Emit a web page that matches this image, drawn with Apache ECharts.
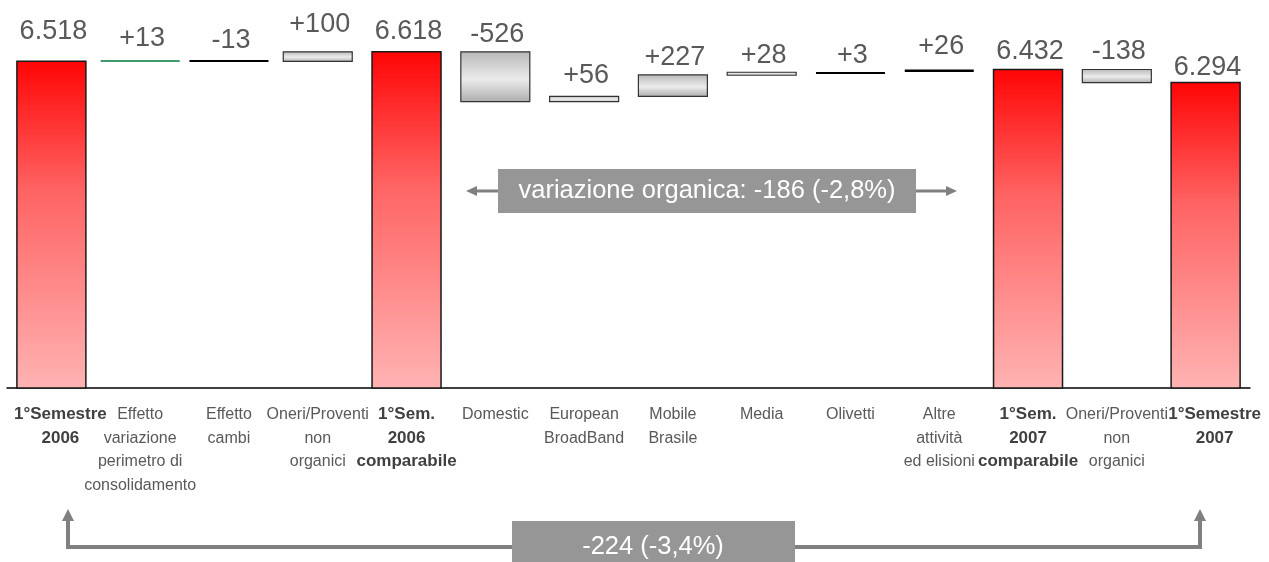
<!DOCTYPE html>
<html><head><meta charset="utf-8">
<script src="https://cdn.jsdelivr.net/npm/echarts@6/dist/echarts.min.js"></script>
<style>html,body{margin:0;padding:0;background:#fff}#c{width:1269px;height:562px}</style>
</head><body><div id="c"></div>
<script>
// ---- data ----
const categories = ['1°Semestre\n2006','Effetto\nvariazione\nperimetro di\nconsolidamento','Effetto\ncambi','Oneri/Proventi\nnon\norganici','1°Sem.\n2006\ncomparabile','Domestic','European\nBroadBand','Mobile\nBrasile','Media','Olivetti','Altre\nattività\ned elisioni','1°Sem.\n2007\ncomparabile','Oneri/Proventi\nnon\norganici','1°Semestre\n2007'];
const values = [6518, 13, -13, 100, 6618, -526, 56, 227, 28, 3, 26, 6432, -138, 6294];
const isTotal = [true,false,false,false,true,false,false,false,false,false,false,true,false,true];
const valueLabels = ['6.518','+13','-13','+100','6.618','-526','+56','+227','+28','+3','+26','6.432','-138','6.294'];
const organicText = 'variazione organica: -186 (-2,8%)';
const totalText = '-224 (-3,4%)';

// ---- styling (kept apart from data) ----
const markKind = ['total','lineGreenWide','lineWide','box','total','box','box','box','box','line','line','total','box','total'];
const labelGap = [16,8,6,14,7,4,7,4,3,3,9,4,4,2];
const FONT = '"Liberation Sans", Arial, sans-serif';
const Y_MIN = 3070, Y_MAX = 7060;

// running total -> segments
let run = 0;
const segs = values.map((v, i) => {
  if (isTotal[i]) { run = v; return [i, Y_MIN, v]; }
  const a = run, b = run + v; run = b;
  return [i, Math.min(a, b), Math.max(a, b)];
});

const redGrad = () => new echarts.graphic.LinearGradient(0, 0, 0, 1, [
  {offset: 0, color: '#ff0505'}, {offset: 0.4, color: '#ff6464'}, {offset: 1, color: '#ffb3b3'}]);
const grayGrad = () => new echarts.graphic.LinearGradient(0, 0, 0, 1, [
  {offset: 0, color: '#b8b8b8'}, {offset: 0.55, color: '#ececec'}, {offset: 1, color: '#acacac'}]);

function renderItem(params, api) {
  const i = api.value(0), lo = api.value(1), hi = api.value(2);
  const pTop = api.coord([i, hi]), pBot = api.coord([i, lo]);
  const band = api.size([1, 0])[0];
  const kind = markKind[i];
  const wide = kind.indexOf('Wide') >= 0;
  const w = band * (wide ? 0.89 : 0.777);
  const x0 = pTop[0] - w / 2;
  let h = pBot[1] - pTop[1];
  const children = [];
  if (kind === 'total') {
    children.push({type: 'rect', shape: {x: x0, y: pTop[1], width: w, height: h},
      style: {fill: redGrad(), stroke: '#1a1a1a', lineWidth: 1.5}});
  } else if (kind === 'box') {
    h = Math.max(h, 3);
    children.push({type: 'rect', shape: {x: x0, y: pTop[1], width: w, height: h},
      style: {fill: grayGrad(), stroke: '#333', lineWidth: 1.2}});
  } else {
    const lh = Math.max(h, 2);
    children.push({type: 'rect', shape: {x: x0, y: pTop[1], width: w, height: lh},
      style: {fill: kind === 'lineGreenWide' ? '#3f9a6c' : '#000'}});
  }
  children.push({type: 'text', x: pTop[0] + 2, y: pTop[1] - labelGap[i],
    style: {text: valueLabels[i], fill: '#595959', font: '27px ' + FONT, align: 'center', verticalAlign: 'bottom'}});
  return {type: 'group', children};
}

const edgeIdx = [0, categories.length - 1];
const chart = echarts.init(document.getElementById('c'));
chart.setOption({
  animation: false,
  grid: {left: 7, right: 19, top: 10, bottom: 174, containLabel: false, outerBoundsMode: 'none'},
  xAxis: {
    type: 'category', data: categories,
    axisLine: {lineStyle: {color: '#000', width: 1.5}},
    axisTick: {show: false},
    axisLabel: {
      interval: 0, margin: 15, fontSize: 16, lineHeight: 23.5, color: '#595959', fontFamily: FONT,
      formatter: (v, idx) => {
        if (!isTotal[idx]) return v;
        const st = edgeIdx.indexOf(idx) >= 0 ? 'be' : 'b';
        return v.split('\n').map(l => '{' + st + '|' + l + '}').join('\n');
      },
      rich: {
        b: {fontWeight: 'bold', color: '#404040', fontSize: 17, lineHeight: 23.5, fontFamily: FONT},
        be: {fontWeight: 'bold', color: '#404040', fontSize: 17, lineHeight: 23.5, fontFamily: FONT, padding: [0, 0, 0, 18]}
      }
    }
  },
  yAxis: {type: 'value', min: Y_MIN, max: Y_MAX, show: false, splitLine: {show: false}},
  series: [{type: 'custom', renderItem, data: segs, encode: {x: 0, y: [1, 2]}, clip: false}],
  graphic: [
    // organic variation annotation
    {type: 'line', shape: {x1: 474, y1: 191, x2: 498, y2: 191}, style: {stroke: '#808080', lineWidth: 3}},
    {type: 'polygon', shape: {points: [[466, 191], [477, 186], [477, 196]]}, style: {fill: '#808080'}},
    {type: 'line', shape: {x1: 916, y1: 191, x2: 948, y2: 191}, style: {stroke: '#808080', lineWidth: 3}},
    {type: 'polygon', shape: {points: [[957, 191], [946, 186], [946, 196]]}, style: {fill: '#808080'}},
    {type: 'rect', shape: {x: 498, y: 169, width: 418, height: 44}, style: {fill: '#969696'}},
    {type: 'text', x: 707, y: 191, style: {text: organicText, fill: '#fff', font: '25.5px ' + FONT, align: 'center', verticalAlign: 'middle'}},
    // total variation annotation
    {type: 'polyline', shape: {points: [[68, 519], [68, 547], [1200, 547], [1200, 519]]}, style: {stroke: '#808080', lineWidth: 4, fill: null}},
    {type: 'polygon', shape: {points: [[68, 509], [62, 521], [74, 521]]}, style: {fill: '#808080'}},
    {type: 'polygon', shape: {points: [[1200, 509], [1194, 521], [1206, 521]]}, style: {fill: '#808080'}},
    {type: 'rect', shape: {x: 512, y: 521, width: 283, height: 45}, style: {fill: '#969696'}},
    {type: 'text', x: 653, y: 547, style: {text: totalText, fill: '#fff', font: '25.5px ' + FONT, align: 'center', verticalAlign: 'middle'}}
  ]
});
</script></body></html>
